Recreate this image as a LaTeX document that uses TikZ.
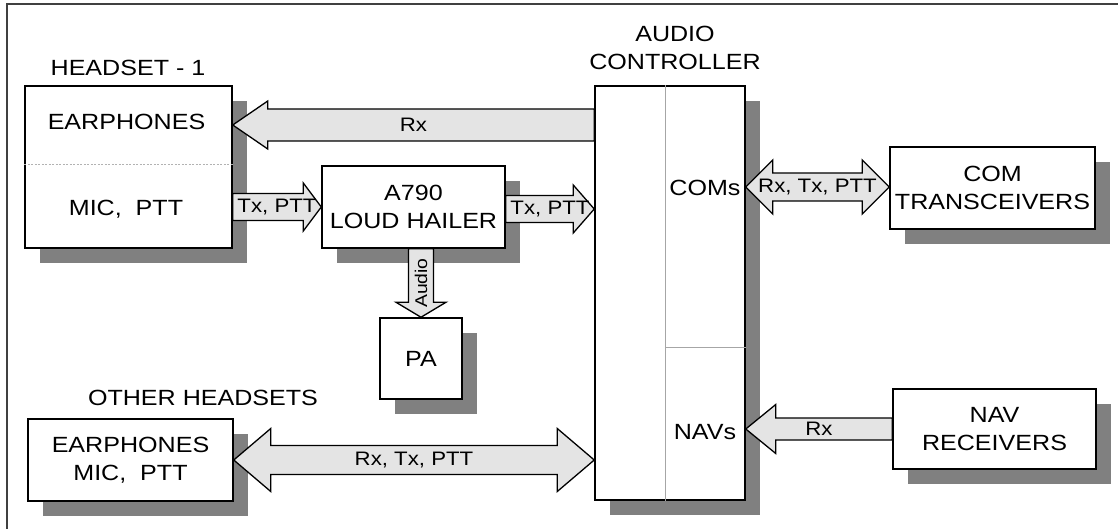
\documentclass[tikz,border=0pt]{standalone}
\usepackage{fontspec}
\setmainfont[FakeStretch=1.14]{Liberation Sans}
\usetikzlibrary{calc,shadows}
\definecolor{shadowgray}{HTML}{808080}
\definecolor{arrowfill}{HTML}{E4E4E4}
\definecolor{framecol}{HTML}{404040}
\newcommand\mainfs{\fontsize{22}{28}\selectfont}
\newcommand\lblfs{\fontsize{19.5}{24}\selectfont}
\newcommand\audfs{\fontsize{17}{20}\selectfont}
% single horizontal block arrow: tail, tip, shaft half, head half, head length
\newcommand\harrow[5]{%
  \draw[barrow] let \p1=(#1), \p2=(#2), \n1={sign(\x2-\x1)} in
    (\x1,\y1+#3) -- (\x2-\n1*#5,\y1+#3) -- (\x2-\n1*#5,\y1+#4) -- (\x2,\y1)
    -- (\x2-\n1*#5,\y1-#4) -- (\x2-\n1*#5,\y1-#3) -- (\x1,\y1-#3) -- cycle;}
% double horizontal block arrow
\newcommand\darrow[5]{%
  \draw[barrow] let \p1=(#1), \p2=(#2), \n1={sign(\x2-\x1)} in
    (\x1,\y1) -- (\x1+\n1*#5,\y1+#4) -- (\x1+\n1*#5,\y1+#3) -- (\x2-\n1*#5,\y1+#3)
    -- (\x2-\n1*#5,\y1+#4) -- (\x2,\y1) -- (\x2-\n1*#5,\y1-#4) -- (\x2-\n1*#5,\y1-#3)
    -- (\x1+\n1*#5,\y1-#3) -- (\x1+\n1*#5,\y1-#4) -- cycle;}
% single vertical block arrow
\newcommand\varrow[5]{%
  \draw[barrow] let \p1=(#1), \p2=(#2), \n1={sign(\y2-\y1)} in
    (\x1+#3,\y1) -- (\x1+#3,\y2-\n1*#5) -- (\x1+#4,\y2-\n1*#5) -- (\x1,\y2)
    -- (\x1-#4,\y2-\n1*#5) -- (\x1-#3,\y2-\n1*#5) -- (\x1-#3,\y1) -- cycle;}
\tikzset{
  box/.style={draw=black, line width=1.5pt, fill=white, inner sep=0pt,
    align=center, font=\mainfs,
    drop shadow={opacity=1, fill=shadowgray, shadow xshift=15pt, shadow yshift=-15pt}},
  barrow/.style={draw=black, line width=1.3pt, fill=arrowfill, line join=miter},
  lbl/.style={font=\lblfs, inner sep=0pt},
  head/.style={font=\mainfs, align=center, inner sep=0pt},
  divider/.style={draw=gray!70, line width=1pt},
}
\begin{document}
\begin{tikzpicture}[x=1pt,y=-1pt]
\useasboundingbox (0,0) rectangle (1118,529);
\draw[framecol, line width=1.5pt] (7,529) -- (7,4) -- (1118,4);

% boxes
\node[box, minimum width=207pt, minimum height=162pt] (hs1) at (128.5,167) {};
\node[box, minimum width=183pt, minimum height=82pt] (a790) at (413.5,207) {A790\\LOUD HAILER};
\node[box, minimum width=82pt, minimum height=81pt] (pa) at (421,358.5) {PA};
\node[box, minimum width=205pt, minimum height=82pt] (oh) at (130.5,460) {EARPHONES\\MIC,\ \ PTT};
\node[box, minimum width=150pt, minimum height=414pt] (ctrl) at (670,293) {};
\node[box, minimum width=205pt, minimum height=82pt] (com) at (992.5,188) {COM\\TRANSCEIVERS};
\node[box, minimum width=203pt, minimum height=80pt] (nav) at (994.5,429) {NAV\\RECEIVERS};

% dividers
\draw[gray!60, line width=0.8pt, dash pattern=on 2pt off 1.5pt] (hs1.west |- 0,164) -- (hs1.east |- 0,164);
\coordinate (cdT) at ($(ctrl.north west)+(71,0)$);
\coordinate (cdB) at ($(ctrl.south west)+(71,0)$);
\draw[divider] (cdT) -- (cdB);
\draw[divider] (cdT |- 0,347) -- (ctrl.east |- 0,347);

% texts
\node[head] (hs1t) at (128,68) {HEADSET - 1};
\node[head] (ear1) at (126.5,122) {EARPHONES};
\node[head] (mic1) at (126,209) {MIC,\ \ PTT};
\node[head] (ctrlt) at (675,47.5) {AUDIO\\CONTROLLER};
\node[head] (oht) at (203,398) {OTHER HEADSETS};
\node[head] (coms) at (705,188) {COMs};
\node[head] (navs) at (705,432) {NAVs};

% arrows
\coordinate (rxS) at (ctrl.west |- 0,125);
\coordinate (rxT) at (hs1.east |- 0,125);
\harrow{rxS}{rxT}{16pt}{24pt}{35pt}
\path (rxS) -- (rxT) node[lbl, midway] {Rx};

\coordinate (t1S) at (hs1.east |- 0,207);
\coordinate (t1T) at (a790.west |- 0,207);
\harrow{t1S}{t1T}{13.5pt}{24pt}{18pt}
\path (t1S) -- (t1T) node[lbl, midway] {Tx, PTT};

\coordinate (t2S) at (a790.east |- 0,209);
\coordinate (t2T) at (ctrl.west |- 0,209);
\harrow{t2S}{t2T}{13.5pt}{24pt}{21pt}
\path (t2S) -- (t2T) node[lbl, midway] {Tx, PTT};

\coordinate (auS) at (pa.north |- a790.south);
\coordinate (auT) at (pa.north);
\varrow{auS}{auT}{12.5pt}{25pt}{15pt}
\path (auS) -- (auT) node[lbl, midway, rotate=90, font=\audfs] {Audio};

\coordinate (ohA) at (oh.east |- 0,460);
\coordinate (ohB) at (ctrl.west |- 0,460);
\darrow{ohA}{ohB}{14.5pt}{31.5pt}{37pt}
\path (ohA) -- (ohB) node[lbl, midway] {Rx, Tx, PTT};

\coordinate (cmA) at (ctrl.east |- 0,187);
\coordinate (cmB) at (com.west |- 0,187);
\darrow{cmA}{cmB}{14pt}{27pt}{27pt}
\path (cmA) -- (cmB) node[lbl, midway] {Rx, Tx, PTT};

\coordinate (nvS) at (nav.west |- 0,429);
\coordinate (nvT) at (ctrl.east |- 0,429);
\harrow{nvS}{nvT}{11pt}{24.5pt}{30pt}
\path (nvS) -- (nvT) node[lbl, midway] {Rx};
\end{tikzpicture}
\end{document}
